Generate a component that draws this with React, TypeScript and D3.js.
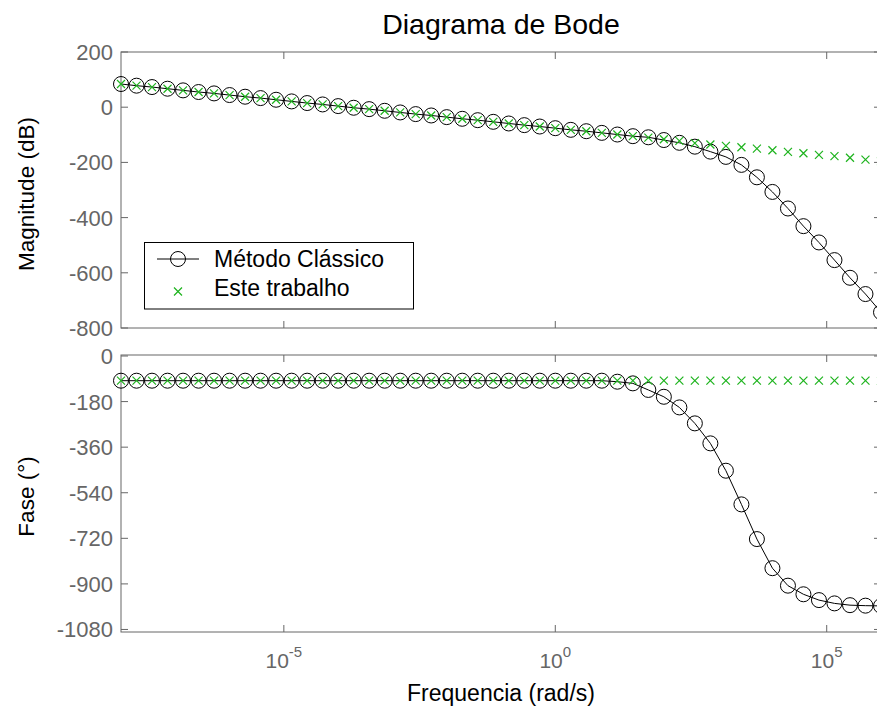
import React from "react";
import * as d3 from "d3";

// log10 of the frequencies (rad/s) at which the markers sit
const freqExp = [
  -8, -7.714, -7.429, -7.143, -6.857, -6.571, -6.286, -6, -5.714, -5.429,
  -5.143, -4.857, -4.571, -4.286, -4, -3.714, -3.429, -3.143, -2.857, -2.571,
  -2.286, -2, -1.714, -1.429, -1.143, -0.857, -0.571, -0.286, 0, 0.286,
  0.571, 0.857, 1.143, 1.429, 1.714, 2, 2.286, 2.571, 2.857, 3.143,
  3.429, 3.714, 4, 4.286, 4.571, 4.857, 5.143, 5.429, 5.714, 6,
];

// Magnitude (dB)
const magClassico = [
  84, 78, 73, 67, 61, 55, 50, 44, 38, 33,
  27, 21, 15, 10, 4, -2, -7, -13, -19, -25,
  -30, -36, -42, -47, -53, -59, -65, -70, -76, -82,
  -87, -93, -99, -105, -109, -119, -129, -143, -161, -180,
  -209, -254, -307, -367, -431, -490, -554, -618, -677, -743,
];
const magTrabalho = [
  84, 78, 73, 67, 61, 55, 50, 44, 38, 33,
  27, 21, 15, 10, 4, -2, -7, -13, -19, -25,
  -30, -36, -42, -47, -53, -59, -65, -70, -76, -82,
  -87, -93, -99, -105, -110, -116, -122, -130, -135, -140,
  -145, -150, -156, -162, -167, -173, -177, -183, -190, -196,
];

// Phase (degrees)
const faseClassico = [
  -97.5, -97.5, -97.5, -97.5, -97.5, -97.5, -97.5, -97.5, -97.5, -97.5,
  -97.5, -97.5, -97.5, -97.5, -97.5, -97.5, -97.5, -97.5, -97.5, -97.5,
  -97.5, -97.5, -97.5, -97.5, -97.5, -97.5, -97.5, -97.5, -97.5, -97.5,
  -97.5, -97.5, -101.5, -108, -134, -161, -203, -266, -345, -453,
  -586, -723, -838, -907, -941, -964, -977, -984, -986, -987,
];
const faseTrabalho = [
  -97.5, -97.5, -97.5, -97.5, -97.5, -97.5, -97.5, -97.5, -97.5, -97.5,
  -97.5, -97.5, -97.5, -97.5, -97.5, -97.5, -97.5, -97.5, -97.5, -97.5,
  -97.5, -97.5, -97.5, -97.5, -97.5, -97.5, -97.5, -97.5, -97.5, -97.5,
  -97.5, -97.5, -97.5, -97.5, -97.5, -97.5, -97.5, -97.5, -97.5, -97.5,
  -97.5, -97.5, -97.5, -97.5, -97.5, -97.5, -97.5, -97.5, -97.5, -97.5,
];

const xTicks = [1e-5, 1e0, 1e5];
const xTickExp = ["-5", "0", "5"];
const magTicks = [200, 0, -200, -400, -600, -800];
const faseTicks = [0, -180, -360, -540, -720, -900, -1080];

const title = "Diagrama de Bode";
const xLabel = "Frequencia (rad/s)";
const magLabel = "Magnitude (dB)";
const faseLabel = "Fase (°)";
const legendLabels = ["Método Clássico", "Este trabalho"];

const W = 877;
const H = 710;
const FONT = "'Liberation Sans', Arial, Helvetica, sans-serif";
const AXIS = "#666666";
const GREEN = "#1db31d";
const TICKLEN = 7;

const L = 121;
const R = 881;
const magTop = 52;
const magBot = 328;
const faseTop = 355;
const faseBot = 632;

export default function App() {
  const freqs = freqExp.map((e) => Math.pow(10, e));
  const x = d3.scaleLog().domain([1e-8, 1e6]).range([L, R]);
  const yMag = d3.scaleLinear().domain([-800, 200]).range([magBot, magTop]);
  const yFase = d3.scaleLinear().domain([-1090, 4]).range([faseBot, faseTop]);

  const panel = (
    y: d3.ScaleLinear<number, number>,
    top: number,
    bot: number,
    ticks: number[],
    classico: number[],
    trabalho: number[],
    key: string
  ) => {
    const line = d3
      .line<number>()
      .x((_, i) => x(freqs[i]))
      .y((d) => y(d));
    return (
      <g key={key}>
        <rect x={L} y={top} width={R - L} height={bot - top} fill="none" stroke={AXIS} strokeWidth={1} />
        {xTicks.map((t, i) => (
          <g key={"xt" + i}>
            <line x1={x(t)} x2={x(t)} y1={top} y2={top + TICKLEN} stroke={AXIS} />
            <line x1={x(t)} x2={x(t)} y1={bot} y2={bot - TICKLEN} stroke={AXIS} />
          </g>
        ))}
        {ticks.map((t, i) => (
          <g key={"yt" + i}>
            <line x1={L} x2={L + TICKLEN} y1={y(t)} y2={y(t)} stroke={AXIS} />
            <line x1={R} x2={R - TICKLEN} y1={y(t)} y2={y(t)} stroke={AXIS} />
            <text
              x={L - 8}
              y={y(t)}
              dy="0.36em"
              textAnchor="end"
              fontSize={22}
              fill={AXIS}
              fontFamily={FONT}
            >
              {t}
            </text>
          </g>
        ))}
        <path d={line(classico) || ""} fill="none" stroke="#000" strokeWidth={1} />
        {classico.map((v, i) => (
          <circle key={"c" + i} cx={x(freqs[i])} cy={y(v)} r={7.5} fill="none" stroke="#000" strokeWidth={1} />
        ))}
        {trabalho.map((v, i) => {
          const cx = x(freqs[i]);
          const cy = y(v);
          const s = 4;
          return (
            <path
              key={"g" + i}
              d={`M${cx - s},${cy - s}L${cx + s},${cy + s}M${cx - s},${cy + s}L${cx + s},${cy - s}`}
              stroke={GREEN}
              strokeWidth={1.2}
              fill="none"
            />
          );
        })}
      </g>
    );
  };

  const legX = 144.5;
  const legY = 242.5;
  const legW = 269;
  const legH = 66.5;

  return (
    <svg
      width={W}
      height={H}
      style={{ position: "absolute", left: 0, top: 0, background: "#fff" }}
    >
      <rect x={0} y={0} width={W} height={H} fill="#fff" />
      <text x={(L + R) / 2} y={34} textAnchor="middle" fontSize={28.5} fontFamily={FONT} fill="#000">
        {title}
      </text>
      {panel(yMag, magTop, magBot, magTicks, magClassico, magTrabalho, "mag")}
      {panel(yFase, faseTop, faseBot, faseTicks, faseClassico, faseTrabalho, "fase")}
      {xTicks.map((t, i) => (
        <text key={"xl" + i} x={x(t)} y={668} textAnchor="middle" fontSize={21} fill={AXIS} fontFamily={FONT}>
          <tspan>10</tspan>
          <tspan dy={-11} fontSize={15}>
            {xTickExp[i]}
          </tspan>
        </text>
      ))}
      <text x={(L + R) / 2} y={701} textAnchor="middle" fontSize={23} fontFamily={FONT} fill="#000">
        {xLabel}
      </text>
      <text
        transform={`translate(34,${(magTop + magBot) / 2 + 4}) rotate(-90)`}
        textAnchor="middle"
        fontSize={22.5}
        fontFamily={FONT}
        fill="#000"
      >
        {magLabel}
      </text>
      <text
        transform={`translate(34,${(faseTop + faseBot) / 2 + 3}) rotate(-90)`}
        textAnchor="middle"
        fontSize={22.5}
        fontFamily={FONT}
        fill="#000"
      >
        {faseLabel}
      </text>
      <g>
        <rect x={legX} y={legY} width={legW} height={legH} fill="#fff" stroke="#000" strokeWidth={1} />
        <line x1={157} x2={199} y1={259} y2={259} stroke="#000" strokeWidth={1} />
        <circle cx={178} cy={259} r={7.5} fill="none" stroke="#000" strokeWidth={1} />
        <path
          d={`M${178 - 4},${291.5 - 4}L${178 + 4},${291.5 + 4}M${178 - 4},${291.5 + 4}L${178 + 4},${291.5 - 4}`}
          stroke={GREEN}
          strokeWidth={1.2}
        />
        <text x={214} y={267.3} fontSize={23} fontFamily={FONT} fill="#000">
          {legendLabels[0]}
        </text>
        <text x={214} y={295.5} fontSize={23} fontFamily={FONT} fill="#000">
          {legendLabels[1]}
        </text>
      </g>
    </svg>
  );
}
